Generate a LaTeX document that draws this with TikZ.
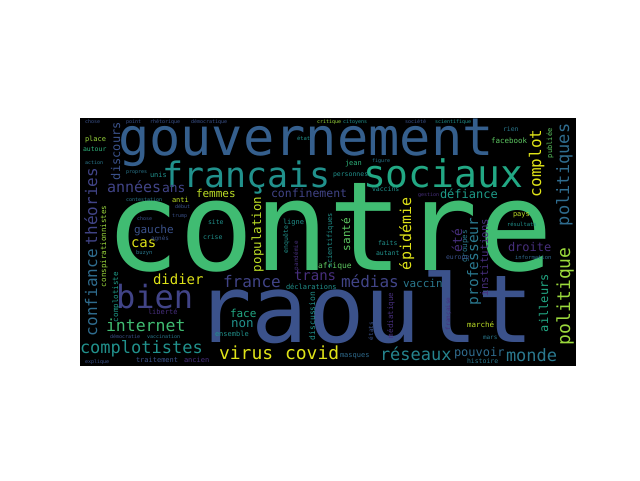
\documentclass[tikz,border=0pt]{standalone}
\usepackage{xcolor}
\usepackage{fontspec}
\usepackage{tikz}
\newfontfamily\wcfont{DejaVu Sans Mono}
\definecolor{vir02}{HTML}{472F7D}
\definecolor{vir03}{HTML}{414487}
\definecolor{vir04}{HTML}{3B528B}
\definecolor{vir05}{HTML}{355F8D}
\definecolor{vir06}{HTML}{2F6C8E}
\definecolor{vir07}{HTML}{2A788E}
\definecolor{vir08}{HTML}{25848E}
\definecolor{vir09}{HTML}{21918C}
\definecolor{vir10}{HTML}{1E9C89}
\definecolor{vir11}{HTML}{22A884}
\definecolor{vir12}{HTML}{2FB47C}
\definecolor{vir13}{HTML}{40BC72}
\definecolor{vir14}{HTML}{5EC962}
\definecolor{vir16}{HTML}{9BD93C}
\definecolor{vir17}{HTML}{BDDF26}
\definecolor{vir18}{HTML}{DFE318}
\newcommand{\wsz}[1]{\wcfont\fontsize{#1}{#1}\selectfont}
\tikzset{
  word/.style={inner sep=0pt, outer sep=0pt, anchor=base west},
  vword/.style={word, rotate=90}
}

\begin{document}
\begin{tikzpicture}[x=1pt, y=-1pt]
    \useasboundingbox (0,0) rectangle (640,480);
    \fill[white] (0,0) rectangle (640,480);
    % --- --- --- cloud background
    \fill[black] (80,118.4) rectangle (576,366.4);
    % === === === Big words
    \node[word,text=vir13] (contre) at (105,270) {\wsz{124}contre};
    \node[word,text=vir04] (raoult) at (195,342) {\wsz{94}raoult};
    \node[word,text=vir05] (gouvernement) at (118,155) {\wsz{52}gouvernement};
    \node[word,text=vir09] (francais) at (162,187) {\wsz{35}français};
    \node[word,text=vir11] (sociaux) at (363,187) {\wsz{38}sociaux};
    \node[word,text=vir03] (bien) at (116,308) {\wsz{32}bien};
    % === === === Middle words
    \node[word,text=vir03] (annees) at (107,192) {\wsz{15}années};
    \node[word,text=vir03] (ans) at (162,192) {\wsz{13}ans};
    \node[word,text=vir17] (femmes) at (196,197) {\wsz{11}femmes};
    \node[word,text=vir03] (confinement) at (271,197) {\wsz{11.5}confinement};
    \node[word,text=vir10] (defiance) at (440,198) {\wsz{12}défiance};
    \node[word,text=vir04] (gauche) at (134,233) {\wsz{11}gauche};
    \node[word,text=vir18] (cas) at (131,247) {\wsz{14}cas};
    \node[word,text=vir18] (didier) at (153,284) {\wsz{14}didier};
    \node[word,text=vir03] (france) at (223,287) {\wsz{16}france};
    \node[word,text=vir02] (trans) at (294,280) {\wsz{14}trans};
    \node[word,text=vir03] (medias) at (341,287) {\wsz{16}médias};
    \node[word,text=vir07] (vaccin) at (403,287) {\wsz{11}vaccin};
    \node[word,text=vir02] (droite) at (508,251) {\wsz{12}droite};
    \node[word,text=vir13] (internet) at (106,331) {\wsz{16.5}internet};
    \node[word,text=vir11] (face) at (230,317) {\wsz{11}face};
    \node[word,text=vir09] (non) at (231,327) {\wsz{12.5}non};
    \node[word,text=vir09] (complotistes) at (80,353) {\wsz{17}complotistes};
    \node[word,text=vir18] (virus) at (219,359) {\wsz{18}virus};
    \node[word,text=vir18] (covid) at (285,359) {\wsz{18}covid};
    \node[word,text=vir08] (reseaux) at (380,360) {\wsz{17}réseaux};
    \node[word,text=vir06] (pouvoir) at (454,356) {\wsz{12}pouvoir};
    \node[word,text=vir07] (monde) at (506,361) {\wsz{17}monde};
    % === === === Vertical words
    \node[vword,text=vir04] (discours) at (120,180) {\wsz{12}discours};
    \node[vword,text=vir03] (theories) at (97,245) {\wsz{16}théories};
    \node[vword,text=vir06] (confiance) at (97,336) {\wsz{16}confiance};
    \node[vword,text=vir16] (conspirationnistes) at (106,287) {\wsz{7.5}conspirationnistes};
    \node[vword,text=vir10] (complotiste) at (118,322) {\wsz{7.5}complotiste};
    \node[vword,text=vir17] (population) at (261,272) {\wsz{12.5}population};
    \node[vword,text=vir14] (sante) at (350,251) {\wsz{11}santé};
    \node[vword,text=vir09] (scientifiques) at (332,268) {\wsz{7}scientifiques};
    \node[vword,text=vir18] (epidemie) at (411,270) {\wsz{15}épidémie};
    \node[vword,text=vir02] (ete) at (462,252) {\wsz{13}été};
    \node[vword,text=vir07] (groupes) at (467,262) {\wsz{7.5}groupes};
    \node[vword,text=vir07] (professeur) at (478,305) {\wsz{14.5}professeur};
    \node[vword,text=vir02] (institutions) at (488,296) {\wsz{10.7}institutions};
    \node[vword,text=vir18] (complot) at (541,197) {\wsz{16}complot};
    \node[vword,text=vir06] (politiques) at (569,226) {\wsz{17}politiques};
    \node[vword,text=vir14] (publiee) at (552,158) {\wsz{7}publiée};
    \node[vword,text=vir16] (politique) at (570,345) {\wsz{18}politique};
    \node[vword,text=vir11] (ailleurs) at (548,332) {\wsz{12}ailleurs};
    \node[vword,text=vir02] (francaise) at (450,330) {\wsz{6}française};
    \node[vword,text=vir09] (discussion) at (315,340) {\wsz{8}discussion};
    \node[vword,text=vir04] (etats) at (373,340) {\wsz{6}états};
    \node[vword,text=vir02] (mediatique) at (393,338) {\wsz{7.5}médiatique};
    \node[vword,text=vir09] (enquete) at (288,253) {\wsz{6.5}enquête};
    \node[vword,text=vir02] (pandemie) at (298,270) {\wsz{6}pandémie};
    % === === === Small words
    \node[word,text=vir04] (chose) at (85,123) {\wsz{5}chose};
    \node[word,text=vir04] (point) at (126,123) {\wsz{5}point};
    \node[word,text=vir04] (rhetorique) at (150,123) {\wsz{5}rhétorique};
    \node[word,text=vir04] (democratique) at (191,123) {\wsz{5}démocratique};
    \node[word,text=vir16] (critique) at (317,123) {\wsz{5}critique};
    \node[word,text=vir09] (citoyens) at (343,123) {\wsz{5}citoyens};
    \node[word,text=vir04] (societe) at (405,123) {\wsz{5}société};
    \node[word,text=vir09] (scientifique) at (435,123) {\wsz{5}scientifique};
    \node[word,text=vir16] (place) at (85,141) {\wsz{7}place};
    \node[word,text=vir12] (autour) at (83,151) {\wsz{6.5}autour};
    \node[word,text=vir07] (action) at (85,164) {\wsz{5}action};
    \node[word,text=vir07] (propres) at (126,173) {\wsz{5}propres};
    \node[word,text=vir09] (unis) at (150,177) {\wsz{7}unis};
    \node[word,text=vir07] (contestation) at (126,201) {\wsz{5}contestation};
    \node[word,text=vir17] (anti) at (172,202) {\wsz{7}anti};
    \node[word,text=vir04] (debut) at (175,208) {\wsz{5}début};
    \node[word,text=vir04] (trump) at (172,217) {\wsz{5}trump};
    \node[word,text=vir04] (chosebis) at (137,220) {\wsz{5}chose};
    \node[word,text=vir09] (site) at (208,224) {\wsz{6.5}site};
    \node[word,text=vir09] (crise) at (203,239) {\wsz{6.5}crise};
    \node[word,text=vir04] (agnes) at (151,240.5) {\wsz{6}agnès};
    \node[word,text=vir07] (buzyn) at (136,254) {\wsz{5.5}buzyn};
    \node[word,text=vir09] (ligne) at (283,224) {\wsz{7}ligne};
    \node[word,text=vir09] (etat) at (297,140) {\wsz{5.5}état};
    \node[word,text=vir12] (jean) at (345,165) {\wsz{7}jean};
    \node[word,text=vir07] (figure) at (372,162) {\wsz{5}figure};
    \node[word,text=vir09] (personnes) at (333,176) {\wsz{6.5}personnes};
    \node[word,text=vir09] (vaccins) at (372,191) {\wsz{6.5}vaccins};
    \node[word,text=vir09] (faits) at (378,245) {\wsz{6.5}faits};
    \node[word,text=vir09] (autant) at (376,255) {\wsz{6.5}autant};
    \node[word,text=vir14] (afrique) at (318,268) {\wsz{8}afrique};
    \node[word,text=vir09] (declarations) at (286,289) {\wsz{7}déclarations};
    \node[word,text=vir14] (facebook) at (491,143) {\wsz{7.5}facebook};
    \node[word,text=vir07] (rien) at (503,131) {\wsz{6.5}rien};
    \node[word,text=vir02] (gestion) at (418,196) {\wsz{5}gestion};
    \node[word,text=vir17] (pays) at (513,216) {\wsz{7}pays};
    \node[word,text=vir09] (resultats) at (507,226) {\wsz{5.5}résultats};
    \node[word,text=vir06] (information) at (515,259) {\wsz{5.5}information};
    \node[word,text=vir04] (europe) at (446,259) {\wsz{6.5}europe};
    \node[word,text=vir17] (marche) at (467,327) {\wsz{7.5}marché};
    \node[word,text=vir07] (mars) at (483,339) {\wsz{6}mars};
    \node[word,text=vir07] (histoire) at (467,363) {\wsz{6.5}histoire};
    \node[word,text=vir02] (liberte) at (148,314) {\wsz{7}liberté};
    \node[word,text=vir04] (democratie) at (110,338) {\wsz{5}démocratie};
    \node[word,text=vir07] (vaccination) at (147,338) {\wsz{5}vaccination};
    \node[word,text=vir09] (ensemble) at (215,336) {\wsz{7}ensemble};
    \node[word,text=vir06] (masques) at (340,357) {\wsz{7}masques};
    \node[word,text=vir04] (explique) at (85,363) {\wsz{5}explique};
    \node[word,text=vir04] (traitement) at (136,362) {\wsz{7}traitement};
    \node[word,text=vir02] (ancien) at (184,362) {\wsz{7}ancien};
\end{tikzpicture}
\end{document}
